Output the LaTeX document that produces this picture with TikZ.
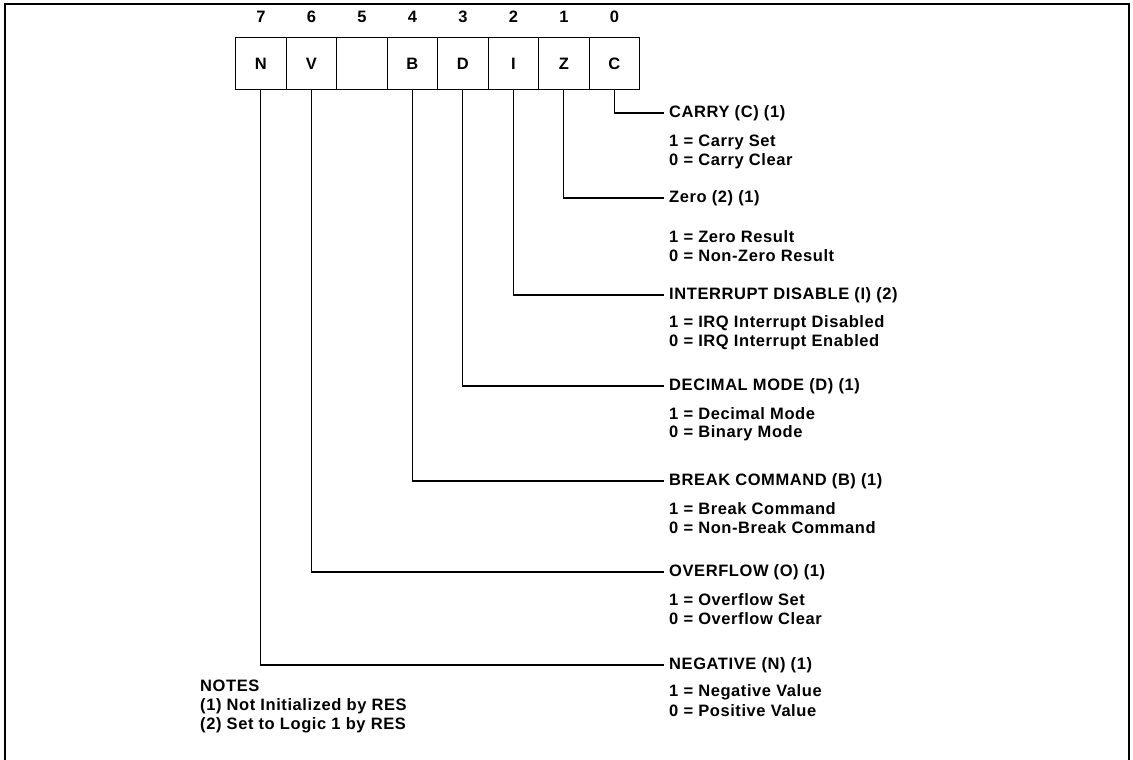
\documentclass[tikz,border=0pt]{standalone}
\usepackage{fontspec}
\setmainfont{Liberation Sans}[LetterSpace=3.5]
\begin{document}
\begin{tikzpicture}[x=1pt,y=-1pt,
  font=\fontsize{16.5}{19}\selectfont\bfseries,
  cell/.style={draw, line width=1.3pt, minimum width=50.5pt, minimum height=52pt, inner sep=0pt, anchor=north west},
  bitno/.style={inner sep=0pt, anchor=base},
  lead/.style={line width=1.1pt},
  ttl/.style={anchor=west, inner xsep=5pt, inner ysep=0pt},
  sub/.style={anchor=west, inner sep=0pt},
  note/.style={anchor=west, inner sep=0pt}]
\useasboundingbox (0,0) rectangle (1133,760);
\draw[line width=1.1pt] (5,760) -- (5,4) -- (1129,4) -- (1129,760);
% register cells
\foreach \i/\t [count=\k from 0] in {7/N,6/V,5/,4/B,3/D,2/I,1/Z,0/C} {
  \node[cell] (c\i) at (235+50.5*\k, 37) {\t};
  \node[bitno] (n\i) at ([yshift=14pt]c\i.north) {\i};
}
% flag descriptions
\foreach \i/\y/\ta/\yb/\tb/\yc/\tc in {
  0/113/{CARRY (C) (1)}/142/{1 = Carry Set}/161/{0 = Carry Clear},
  1/198/{Zero (2) (1)}/237/{1 = Zero Result}/256/{0 = Non-Zero Result},
  2/295/{INTERRUPT DISABLE (I) (2)}/323/{1 = IRQ Interrupt Disabled}/342/{0 = IRQ Interrupt Enabled},
  3/386/{DECIMAL MODE (D) (1)}/414/{1 = Decimal Mode}/433/{0 = Binary Mode},
  4/481/{BREAK COMMAND (B) (1)}/509/{1 = Break Command}/528/{0 = Non-Break Command},
  6/572/{OVERFLOW (O) (1)}/600/{1 = Overflow Set}/619/{0 = Overflow Clear},
  7/665/{NEGATIVE (N) (1)}/692/{1 = Negative Value}/711/{0 = Positive Value}} {
  \node[ttl] (t\i) at (664,\y) {\ta};
  \node[sub] (s\i) at (669,\yb) {\tb};
  \node[sub] (u\i) at (669,\yc) {\tc};
  \draw[lead] (c\i.south) |- (t\i.west);
}
% notes
\node[note] (notes) at (200,686) {NOTES};
\node[note] (note1) at (200,706) {(1) Not Initialized by RES};
\node[note] (note2) at (200,725) {(2) Set to Logic 1 by RES};
\end{tikzpicture}
\end{document}
